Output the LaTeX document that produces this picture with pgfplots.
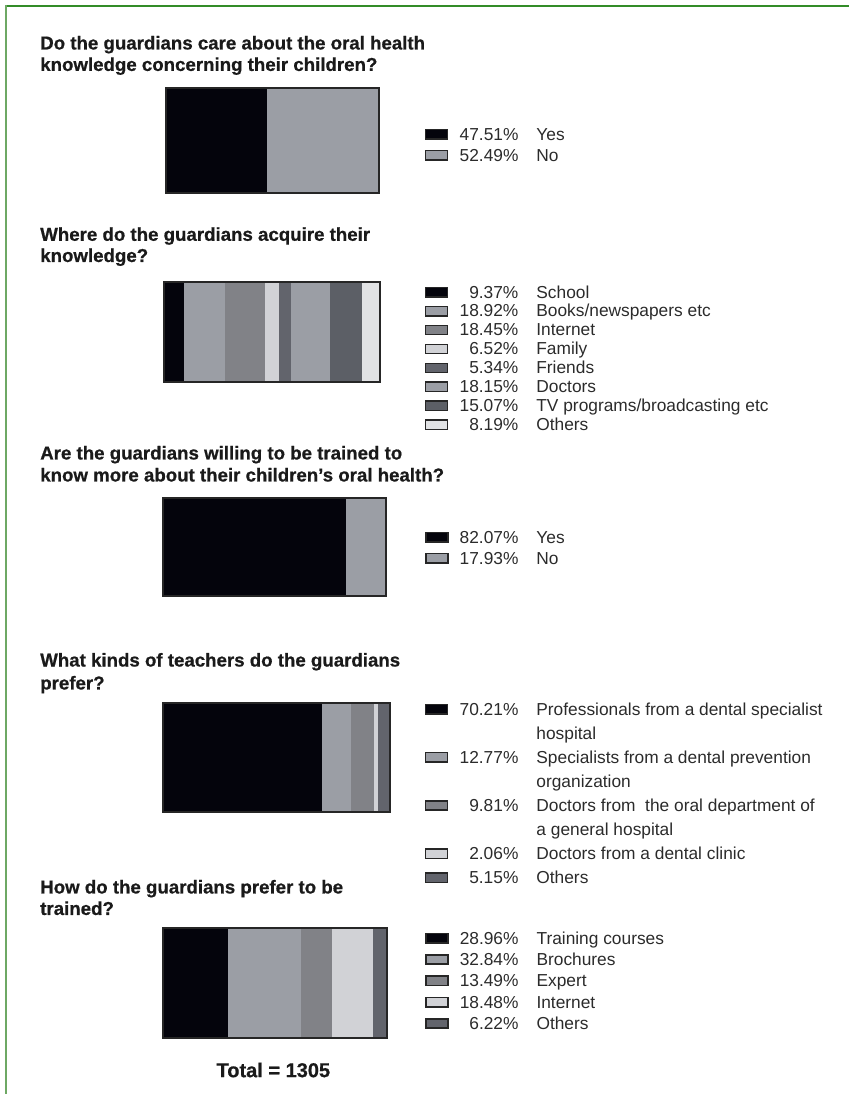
\documentclass[border=0pt]{standalone}
\usepackage{pgfplots}
\pgfplotsset{compat=1.18}
\usepackage{fontspec}
\setmainfont{Liberation Sans}
\newfontfamily\ttlfont{Liberation Sans}[BoldFeatures={FakeBold=0.7}]
\definecolor{cblack}{RGB}{4,4,12}
\definecolor{clight}{RGB}{155,158,165}
\definecolor{cmid}{RGB}{129,130,135}
\definecolor{cvlight}{RGB}{209,210,214}
\definecolor{cvlightb}{RGB}{225,226,228}
\definecolor{cdark}{RGB}{98,100,108}
\definecolor{cdarkb}{RGB}{92,95,102}
\definecolor{txt}{RGB}{43,43,43}
\definecolor{ttl}{RGB}{26,26,26}
\definecolor{gtop}{RGB}{50,140,40}
\definecolor{gleft}{RGB}{110,168,100}
\pgfplotsset{
 stackbar/.style={
   scale only axis, xbar stacked, bar width=1, xmin=0, xmax=100, ymin=-0.5, ymax=0.5,
   enlargelimits=false,
   xtick=\empty, ytick=\empty, axis on top,
   axis line style={line width=1.1pt, black!85},
   legend cell align=left,
   legend style={draw=none, fill=none, anchor=north west, inner sep=0pt, outer sep=0pt,
      font=\fontsize{13}{15}\selectfont\color{txt},
      nodes={inner sep=0pt, text height=10pt, text depth=3pt},
      /tikz/every odd column/.append style={column sep=15pt}},
 },
 sw/.style={legend image code/.code={\draw[fill=#1, draw=black!85, line width=1.1pt] (0pt,-2.6pt) rectangle (16.5pt,4.4pt);}},
}
\newcommand{\lgent}[2]{\addlegendentry{\makebox[37.5pt][r]{#1\%}\hspace{13.5pt}#2}}
\newcommand{\lgext}[1]{\addlegendentry{\hspace{51pt}#1}}
\begin{document}
\begin{tikzpicture}
\useasboundingbox (0,0) rectangle (636.75pt,-820.5pt);
\draw[gtop, line width=1.5pt] (3.75pt,-4.5pt) -- (636.75pt,-4.5pt);
\draw[gleft, line width=1.5pt] (4.5pt,-3.75pt) -- (4.5pt,-820.5pt);
\begin{scope}[every node/.style={anchor=base west, inner sep=0pt, text=ttl, font=\fontsize{14}{16}\selectfont\ttlfont\bfseries}]
\node at (30pt,-37.1pt) {Do the guardians care about the oral health};
\node at (30pt,-53.2pt) {knowledge concerning their children?};
\node at (30pt,-180.6pt) {Where do the guardians acquire their};
\node at (30pt,-196.5pt) {knowledge?};
\node at (30pt,-344.6pt) {Are the guardians willing to be trained to};
\node at (30pt,-361.1pt) {know more about their children’s oral health?};
\node at (30pt,-499.9pt) {What kinds of teachers do the guardians};
\node at (30pt,-517.1pt) {prefer?};
\node at (30pt,-670.1pt) {How do the guardians prefer to be};
\node at (30pt,-686.2pt) {trained?};
\end{scope}
\node[anchor=center, inner sep=0pt, text=ttl, font=\fontsize{15}{17}\selectfont\ttlfont\bfseries] at (205pt,-802.5pt) {Total = 1305};

% Chart 1
\begin{axis}[stackbar, at={(124.5pt,-66pt)}, anchor=north west, width=159.75pt, height=78.75pt,
  legend style={at={(axis description cs:1.216,0.631)}, /tikz/row sep=2.8pt}]
\addplot[fill=cblack, draw=none, forget plot] coordinates {(47.51,0)};
\addplot[fill=clight, draw=none, forget plot] coordinates {(52.49,0)};
\addlegendimage{sw=cblack}\lgent{47.51}{Yes}
\addlegendimage{sw=clight}\lgent{52.49}{No}
\end{axis}

% Chart 2
\begin{axis}[stackbar, at={(123pt,-211.5pt)}, anchor=north west, width=162pt, height=75pt,
  legend style={at={(axis description cs:1.208,0.973)}, /tikz/row sep=1.2pt}]
\addplot[fill=cblack, draw=none, forget plot] coordinates {(9.37,0)};
\addplot[fill=clight, draw=none, forget plot] coordinates {(18.92,0)};
\addplot[fill=cmid, draw=none, forget plot] coordinates {(18.45,0)};
\addplot[fill=cvlight, draw=none, forget plot] coordinates {(6.52,0)};
\addplot[fill=cdark, draw=none, forget plot] coordinates {(5.34,0)};
\addplot[fill=clight, draw=none, forget plot] coordinates {(18.15,0)};
\addplot[fill=cdarkb, draw=none, forget plot] coordinates {(15.07,0)};
\addplot[fill=cvlightb, draw=none, forget plot] coordinates {(8.19,0)};
\addlegendimage{sw=cblack}\lgent{9.37}{School}
\addlegendimage{sw=clight}\lgent{18.92}{Books/newspapers etc}
\addlegendimage{sw=cmid}\lgent{18.45}{Internet}
\addlegendimage{sw=cvlight}\lgent{6.52}{Family}
\addlegendimage{sw=cdark}\lgent{5.34}{Friends}
\addlegendimage{sw=clight}\lgent{18.15}{Doctors}
\addlegendimage{sw=cdarkb}\lgent{15.07}{TV programs/broadcasting etc}
\addlegendimage{sw=cvlightb}\lgent{8.19}{Others}
\end{axis}

% Chart 3
\begin{axis}[stackbar, at={(122.25pt,-373.5pt)}, anchor=north west, width=167.25pt, height=73.5pt,
  legend style={at={(axis description cs:1.175,0.6765)}, /tikz/row sep=2.8pt}]
\addplot[fill=cblack, draw=none, forget plot] coordinates {(82.07,0)};
\addplot[fill=clight, draw=none, forget plot] coordinates {(17.93,0)};
\addlegendimage{sw=cblack}\lgent{82.07}{Yes}
\addlegendimage{sw=clight}\lgent{17.93}{No}
\end{axis}

% Chart 4
\begin{axis}[stackbar, at={(122.25pt,-527.25pt)}, anchor=north west, width=170.25pt, height=81.75pt,
  legend style={at={(axis description cs:1.154,1.012)}, /tikz/row sep=5.05pt}]
\addplot[fill=cblack, draw=none, forget plot] coordinates {(70.21,0)};
\addplot[fill=clight, draw=none, forget plot] coordinates {(12.77,0)};
\addplot[fill=cmid, draw=none, forget plot] coordinates {(9.81,0)};
\addplot[fill=cvlight, draw=none, forget plot] coordinates {(2.06,0)};
\addplot[fill=cdark, draw=none, forget plot] coordinates {(5.15,0)};
\addlegendimage{sw=cblack}\lgent{70.21}{Professionals from a dental specialist}
\addlegendimage{empty legend}\lgext{hospital}
\addlegendimage{sw=clight}\lgent{12.77}{Specialists from a dental prevention}
\addlegendimage{empty legend}\lgext{organization}
\addlegendimage{sw=cmid}\lgent{9.81}{Doctors from\ \ the oral department of}
\addlegendimage{empty legend}\lgext{a general hospital}
\addlegendimage{sw=cvlight}\lgent{2.06}{Doctors from a dental clinic}
\addlegendimage{sw=cdark}\lgent{5.15}{Others}
\end{axis}

% Chart 5
\begin{axis}[stackbar, at={(122.25pt,-696pt)}, anchor=north west, width=168pt, height=82.5pt,
  legend style={at={(axis description cs:1.170,0.9755)}, /tikz/row sep=3.0pt}]
\addplot[fill=cblack, draw=none, forget plot] coordinates {(28.96,0)};
\addplot[fill=clight, draw=none, forget plot] coordinates {(32.84,0)};
\addplot[fill=cmid, draw=none, forget plot] coordinates {(13.49,0)};
\addplot[fill=cvlight, draw=none, forget plot] coordinates {(18.48,0)};
\addplot[fill=cdark, draw=none, forget plot] coordinates {(6.22,0)};
\addlegendimage{sw=cblack}\lgent{28.96}{Training courses}
\addlegendimage{sw=clight}\lgent{32.84}{Brochures}
\addlegendimage{sw=cmid}\lgent{13.49}{Expert}
\addlegendimage{sw=cvlight}\lgent{18.48}{Internet}
\addlegendimage{sw=cdark}\lgent{6.22}{Others}
\end{axis}
\end{tikzpicture}
\end{document}
